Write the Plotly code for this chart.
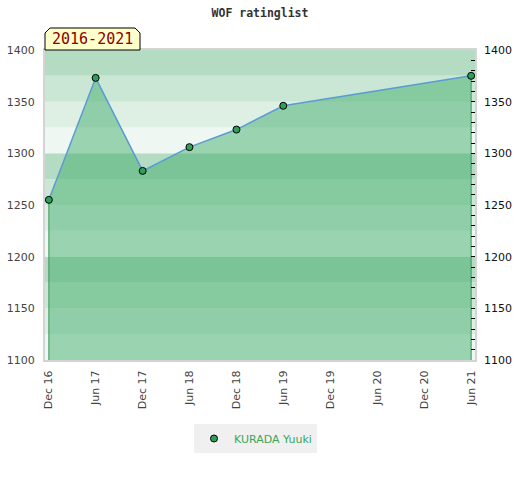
import plotly.graph_objects as go

# ---- data ----
dates = ["2016-12-01", "2017-06-01", "2017-12-01", "2018-06-01", "2018-12-01", "2019-06-01", "2021-06-01"]
ratings = [1255, 1373, 1283, 1306, 1323, 1346, 1375]
player = "KURADA Yuuki"
tick_dates = ["2016-12-01", "2017-06-01", "2017-12-01", "2018-06-01", "2018-12-01",
              "2019-06-01", "2019-12-01", "2020-06-01", "2020-12-01", "2021-06-01"]
tick_labels = ["Dec 16", "Jun 17", "Dec 17", "Jun 18", "Dec 18",
               "Jun 19", "Dec 19", "Jun 20", "Dec 20", "Jun 21"]
y_ticks = [1100, 1150, 1200, 1250, 1300, 1350, 1400]
y_min, y_max = 1100, 1400
band_step = 25
band_colors = ["#eef7f1", "#deefe4", "#cae6d4", "#b3dcc3"]
period_label = "2016-2021"
title_text = "WOF ratinglist"

fig = go.Figure()

# background bands
shapes = []
b = y_min
i = 0
while b < y_max:
    shapes.append(dict(type="rect", xref="paper", yref="y", x0=0, x1=1, y0=b, y1=b + band_step,
                       fillcolor=band_colors[i % 4], line=dict(width=0), layer="below"))
    b += band_step
    i += 1

# area fill
fig.add_trace(go.Scatter(x=dates, y=ratings, mode="lines", fill="tozeroy",
                         fillcolor="rgba(57,169,101,0.47)", line=dict(width=0),
                         showlegend=False, hoverinfo="skip"))
# edge verticals
fig.add_trace(go.Scatter(x=[dates[0], dates[0]], y=[y_min, ratings[0]], mode="lines",
                         line=dict(color="#3a9a5a", width=1), showlegend=False, hoverinfo="skip"))
fig.add_trace(go.Scatter(x=[dates[-1], dates[-1]], y=[y_min, ratings[-1]], mode="lines",
                         line=dict(color="#3a9a5a", width=1), showlegend=False, hoverinfo="skip"))
# line
fig.add_trace(go.Scatter(x=dates, y=ratings, mode="lines",
                         line=dict(color="#5b9bd5", width=1.5), showlegend=False, hoverinfo="skip"))
# markers
fig.add_trace(go.Scatter(x=dates, y=ratings, mode="markers", name=player,
                         marker=dict(color="#2e9e5b", size=7, line=dict(color="#000", width=1))))
# right axis dummy
fig.add_trace(go.Scatter(x=[dates[0]], y=[y_min], yaxis="y2", mode="markers",
                         marker=dict(opacity=0), showlegend=False, hoverinfo="skip"))

# badge
def px2x(px):
    return (px - 45) / 430
def py2y(py):
    return (360 - py) / 310

bx0, bx1, by0, by1, c = 45, 140, 50, 28, 5
path = (f"M {px2x(bx0)},{py2y(by0)} L {px2x(bx0)},{py2y(by1 + c)} L {px2x(bx0 + c)},{py2y(by1)} "
        f"L {px2x(bx1 - c)},{py2y(by1)} L {px2x(bx1)},{py2y(by1 + c)} L {px2x(bx1)},{py2y(by0)} Z")
shapes.append(dict(type="path", xref="paper", yref="paper", path=path,
                   fillcolor="#ffffcc", line=dict(color="#000", width=1), layer="above"))

fig.add_annotation(x=px2x((bx0 + bx1) / 2), y=py2y(39.5), xref="paper", yref="paper",
                   text=period_label, showarrow=False, xanchor="center", yanchor="middle",
                   font=dict(family="DejaVu Sans Mono", size=15, color="#8b0000"))

fig.update_layout(
    width=520, height=480,
    margin=dict(l=45, r=45, t=50, b=120, autoexpand=False),
    paper_bgcolor="white", plot_bgcolor="white",
    shapes=shapes,
    title=dict(text=title_text, x=0.5, xanchor="center", y=1 - 13 / 480, yanchor="middle",
               yref="container", automargin=False,
               font=dict(family="DejaVu Sans Mono", size=11.5, color="#333", weight="bold")),
    xaxis=dict(type="date", range=["2016-11-16", "2021-06-16"], tickvals=tick_dates,
               ticktext=tick_labels, tickangle=-90, showgrid=False, zeroline=False,
               automargin=False, ticklabelstandoff=4,
               tickfont=dict(family="DejaVu Sans", size=11, color="#444"),
               showline=True, linecolor="#d4d4d4", linewidth=2, mirror=True, ticks=""),
    yaxis=dict(range=[y_min, y_max], tickvals=y_ticks, showgrid=False, zeroline=False,
               automargin=False, ticklabelstandoff=6,
               tickfont=dict(family="DejaVu Sans", size=11, color="#444"),
               showline=True, linecolor="#d4d4d4", linewidth=2, mirror=True, ticks=""),
    yaxis2=dict(range=[y_min, y_max], tickvals=y_ticks, overlaying="y", side="right",
                showgrid=False, zeroline=False, ticks="inside", ticklen=4, tickcolor="#000",
                automargin=False, ticklabelstandoff=8,
                minor=dict(dtick=10, tick0=1100, ticks="inside", ticklen=4, tickcolor="#000", showgrid=False),
                tickfont=dict(family="DejaVu Sans", size=11, color="#111")),
    legend=dict(orientation="h", x=px2x(194), xanchor="left", y=py2y(424), yanchor="top",
                bgcolor="#f0f0f0", font=dict(family="DejaVu Sans", size=11, color="#3aa657")),
)

fig.write_html("out.html", config={"displayModeBar": False},
               post_script="document.body.style.margin='0';")
